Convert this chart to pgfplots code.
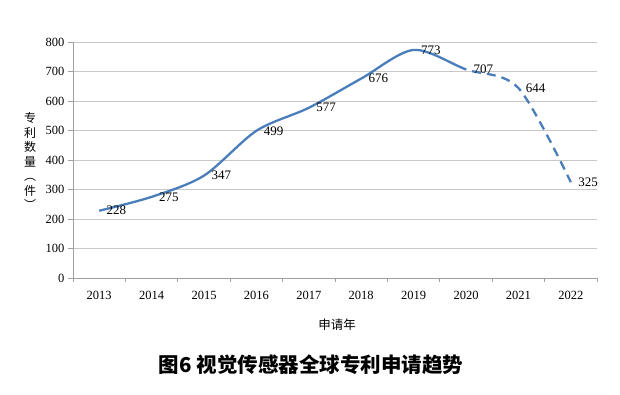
\documentclass[border=0pt]{standalone}
\usepackage{fontspec}
\setmainfont{Liberation Serif}
\newfontfamily\cjk{Noto Sans CJK SC}
\usepackage{pgfplots}
\usepackage{pgfplotstable}
\pgfplotsset{compat=1.18}
\definecolor{lineblue}{RGB}{74,126,187}
\definecolor{gridgray}{RGB}{200,200,200}
\definecolor{axisgray}{RGB}{160,160,160}
\pgfplotstableread{
x y
0 228
1 275
2 347
3 499
4 577
5 676
6 773
7 707
8 644
9 325
}\datatable
\begin{document}
\begin{tikzpicture}
\path[use as bounding box] (0pt,0pt) rectangle (620pt,395pt);
\begin{axis}[
  at={(73pt,117pt)}, anchor=south west, scale only axis,
  width=524pt, height=236pt,
  xmin=-0.5, xmax=9.5, ymin=0, ymax=800,
  clip=false,
  axis x line*=bottom, axis y line*=left,
  axis line style={draw=axisgray, line width=0.8pt},
  xtick={0,...,9},
  xticklabels={2013,2014,2015,2016,2017,2018,2019,2020,2021,2022},
  major x tick style={draw=none},
  minor xtick={-0.5,0.5,...,9.5},
  minor tick length=4pt,
  major tick length=5pt,
  tick align=outside,
  tick style={draw=axisgray, line width=0.8pt},
  ytick={0,100,...,800},
  yticklabel={\pgfmathprintnumber[assume math mode=true]{\tick}},
  ymajorgrids,
  grid style={draw=gridgray, line width=0.8pt},
  /pgf/number format/assume math mode=true,
  tick label style={font=\fontsize{12.5}{14}\selectfont, text=black},
  xticklabel style={yshift=-5pt},
]
\begin{scope}
\clip (axis cs:-0.5,-50) rectangle (axis cs:7,850);
\addplot[smooth, draw=lineblue, line width=2.3pt, mark=none] table[x=x,y=y] {\datatable};
\end{scope}
\begin{scope}
\clip (axis cs:7,-50) rectangle (axis cs:9.5,850);
\addplot[smooth, draw=lineblue, line width=2.3pt, mark=none, dash pattern=on 9pt off 6pt] table[x=x,y=y] {\datatable};
\end{scope}
\addplot[draw=none, mark=none, nodes near coords,
  every node near coord/.append style={anchor=west, xshift=4pt, font=\fontsize{13}{15}\selectfont, text=black, /pgf/number format/assume math mode=true}]
  table[x=x,y=y] {\datatable};
\end{axis}
\node[font=\cjk\fontsize{12}{14.5}\selectfont, align=center, inner sep=0pt] at (30pt,234pt) {专\\利\\数\\量\\︵\\件\\︶};
\node[font=\cjk\fontsize{12.5}{15}\selectfont, inner sep=0pt] at (337pt,70pt) {申请年};
\node[font=\cjk\bfseries\fontsize{20.5}{24}\selectfont, inner sep=0pt] at (311pt,30pt) {图6 视觉传感器全球专利申请趋势};
\end{tikzpicture}
\end{document}
